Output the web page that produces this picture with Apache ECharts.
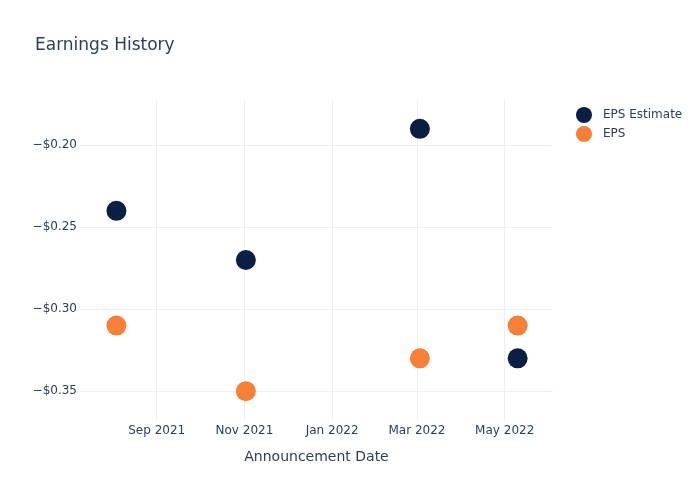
<!DOCTYPE html>
<html>
<head>
<meta charset="utf-8">
<script src="https://cdn.jsdelivr.net/npm/echarts@6/dist/echarts.min.js"></script>
<style>html,body{margin:0;padding:0;background:#fff}#c{width:700px;height:500px}</style>
</head>
<body>
<div id="c"></div>
<script>
const dates = ['2021-08-04', '2021-11-02', '2022-03-03', '2022-05-10'];
const epsEstimate = [-0.24, -0.27, -0.19, -0.33];
const eps = [-0.31, -0.35, -0.33, -0.31];
const seriesNames = ['EPS Estimate', 'EPS'];
const xTickDates = ['2021-09-01', '2021-11-01', '2022-01-01', '2022-03-01', '2022-05-01'];
const xTickLabels = ['Sep 2021', 'Nov 2021', 'Jan 2022', 'Mar 2022', 'May 2022'];

const toTs = s => { const p = s.split('-').map(Number); return Date.UTC(p[0], p[1]-1, p[2]); };
const xMin = Date.UTC(2021, 6, 9, 16);
const xMax = Date.UTC(2022, 5, 3, 14);
const tickTs = xTickDates.map(toTs);

const font = 'DejaVu Sans, Open Sans, sans-serif';
const textColor = '#2a3f5f';
const gridColor = '#ebf0f8';

const chart = echarts.init(document.getElementById('c'), null, {renderer: 'canvas'});
chart.setOption({
  useUTC: true,
  animation: false,
  backgroundColor: '#fff',
  title: {
    text: 'Earnings History',
    left: 35, top: 37, padding: 0,
    textStyle: {fontFamily: font, fontSize: 17, fontWeight: 'normal', color: textColor}
  },
  legend: {
    orient: 'vertical',
    left: 576, top: 107, padding: 0,
    itemWidth: 28, itemHeight: 16, itemGap: 3,
    icon: 'circle',
    data: seriesNames,
    textStyle: {fontFamily: font, fontSize: 12, color: textColor}
  },
  grid: {left: 80, right: 147, top: 100, bottom: 80},
  xAxis: {
    type: 'time',
    min: xMin, max: xMax,
    name: 'Announcement Date',
    nameLocation: 'middle',
    nameGap: 30,
    nameTextStyle: {fontFamily: font, fontSize: 14, color: textColor},
    axisLine: {show: false},
    axisTick: {show: false},
    axisLabel: {
      fontFamily: font, fontSize: 12, color: textColor, margin: 5,
      showMinLabel: false, showMaxLabel: false,
      hideOverlap: false,
      formatter: v => { const i = tickTs.indexOf(v); return i >= 0 ? xTickLabels[i] : ''; }
    },
    splitLine: {show: false}
  },
  yAxis: {
    type: 'value',
    min: -0.3676, max: -0.1724,
    splitNumber: 4,
    axisLine: {show: false},
    axisTick: {show: false},
    axisLabel: {
      fontFamily: font, fontSize: 12, color: textColor, margin: 3,
      showMinLabel: false, showMaxLabel: false,
      formatter: v => (v < 0 ? '\u2212' : '') + '$' + Math.abs(v).toFixed(2)
    },
    splitLine: {show: true, showMinLine: false, showMaxLine: false, lineStyle: {color: gridColor, width: 1}}
  },
  series: [
    {
      name: seriesNames[0], type: 'scatter', symbolSize: 20,
      itemStyle: {color: '#0b1f42', opacity: 1},
      data: dates.map((d, i) => [toTs(d), epsEstimate[i]]),
      markLine: {
        silent: true, symbol: 'none', z: 0,
        label: {show: false},
        lineStyle: {color: gridColor, width: 1, type: 'solid'},
        emphasis: {disabled: true},
        data: tickTs.map(t => ({xAxis: t}))
      }
    },
    {
      name: seriesNames[1], type: 'scatter', symbolSize: 20,
      itemStyle: {color: '#f68038', opacity: 1},
      data: dates.map((d, i) => [toTs(d), eps[i]])
    }
  ]
});
</script>
</body>
</html>
